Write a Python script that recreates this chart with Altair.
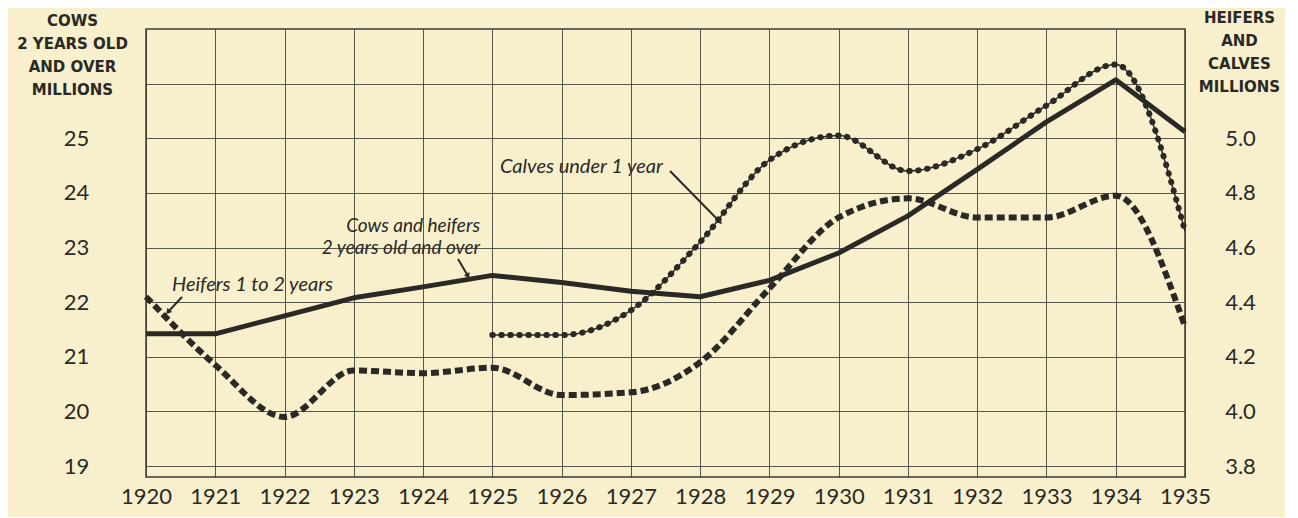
import altair as alt
import pandas as pd

years = list(range(1920, 1936))
cows = [21.42, 21.42, 21.75, 22.08, 22.28, 22.49, 22.36, 22.2, 22.1, 22.4, 22.9, 23.58, 24.43, 25.3, 26.07, 25.12]
heifers = [4.42, 4.17, 3.98, 4.15, 4.14, 4.16, 4.06, 4.07, 4.18, 4.45, 4.71, 4.78, 4.71, 4.71, 4.79, 4.31]
calf_years = list(range(1925, 1936))
calves = [4.28, 4.28, 4.37, 4.62, 4.92, 5.01, 4.88, 4.96, 5.12, 5.27, 4.66]

left_ticks = [19, 20, 21, 22, 23, 24, 25, 26]
right_ticks = [3.8, 4.0, 4.2, 4.4, 4.6, 4.8, 5.0]

INK = "#2a2925"
GRID = "#3d3b33"
BG = "#f8f0cd"
FONT = "Lato"

df_cows = pd.DataFrame({"year": years, "value": cows})
df_heif = pd.DataFrame({"year": years, "value": heifers})
df_calf = pd.DataFrame({"year": calf_years, "value": calves})

x_axis = alt.Axis(values=years, format="d", grid=True, gridColor=GRID, gridWidth=1,
                  gridOpacity=0.85, domain=False, ticks=False, labelPadding=9,
                  labelFontSize=22, labelFont=FONT, labelColor=INK, title=None,
                  labelFlush=False)
x_enc = alt.X("year:Q", scale=alt.Scale(domain=[1920, 1935], nice=False, zero=False), axis=x_axis)

left_axis = alt.Axis(values=left_ticks, orient="left", grid=True, gridColor=GRID, gridWidth=1,
                     gridOpacity=0.85, domain=False, ticks=False, labelAlign="center",
                     labelBaseline="middle", labelPadding=70, labelFontSize=22, labelFont=FONT,
                     labelColor=INK, labelExpr="datum.value <= 25 ? datum.label : ''",
                     title=["COWS", "2 YEARS OLD", "AND OVER", "MILLIONS"], titleAngle=0,
                     titleAlign="center", titleBaseline="top", titleX=-74, titleY=-16,
                     titleFont="DejaVu Sans", titleFontSize=15, titleFontWeight="bold",
                     titleColor=INK, titleLineHeight=23)
right_axis = alt.Axis(values=right_ticks, orient="right", grid=False, domain=False, ticks=False,
                      labelAlign="center", labelBaseline="middle", labelPadding=55,
                      labelFontSize=22, labelFont=FONT, labelColor=INK, format=".1f",
                      title=["HEIFERS", "AND", "CALVES", "MILLIONS"], titleAngle=0,
                      titleAlign="center", titleBaseline="top", titleX=54, titleY=-19,
                      titleFont="DejaVu Sans", titleFontSize=15, titleFontWeight="bold",
                      titleColor=INK, titleLineHeight=23)

y_left = alt.Y("value:Q", scale=alt.Scale(domain=[18.8, 27], nice=False, zero=False), axis=left_axis)
y_right = alt.Y("value:Q", scale=alt.Scale(domain=[3.76, 5.4], nice=False, zero=False), axis=right_axis)

cows_line = alt.Chart(df_cows).mark_line(color=INK, strokeWidth=5, strokeJoin="round").encode(x=x_enc, y=y_left)

# annotations (pixel positions relative to plot area)
ann_left = pd.DataFrame({
    "px": [26, 354],
    "py": [256, 138],
    "txt": ["Heifers 1 to 2 years", "Calves under 1 year"],
})
ann_right = pd.DataFrame({
    "px": [334, 334],
    "py": [197, 219],
    "txt": ["Cows and heifers", "2 years old and over"],
})
arrows = pd.DataFrame({
    "x1": [36, 312, 524],
    "y1": [268, 230, 142],
    "x2": [22, 322, 574],
    "y2": [283, 247, 193],
    "ang": [219.5, 151.0, 135.0],
})

def px(f):
    return alt.X(f"{f}:Q", scale=None, axis=None)

def py(f):
    return alt.Y(f"{f}:Q", scale=None, axis=None)

txt_l = alt.Chart(ann_left).mark_text(align="left", baseline="middle", font=FONT, fontStyle="italic",
                                      fontSize=20, color=INK).encode(x=px("px"), y=py("py"), text="txt:N")
txt_r = alt.Chart(ann_right).mark_text(align="right", baseline="middle", font=FONT, fontStyle="italic",
                                       fontSize=19, color=INK).encode(x=px("px"), y=py("py"), text="txt:N")
arr_lines = alt.Chart(arrows).mark_rule(color=INK, strokeWidth=2).encode(
    x=px("x1"), y=py("y1"), x2="x2:Q", y2="y2:Q")
arr_heads = alt.Chart(arrows).mark_point(shape="triangle-up", filled=True, color=INK, size=40, opacity=1).encode(
    x=px("x2"), y=py("y2"), angle=alt.Angle("ang:Q", scale=None))

left_group = alt.layer(cows_line, txt_l, txt_r, arr_lines, arr_heads)

heif_line = alt.Chart(df_heif).mark_line(color=INK, strokeWidth=6, strokeDash=[8, 4],
                                         interpolate="monotone").encode(x=x_enc, y=y_right)
calf_thin = alt.Chart(df_calf).mark_line(color=INK, strokeWidth=1.5,
                                         interpolate="monotone").encode(x=x_enc, y=y_right)
calf_dots = alt.Chart(df_calf).mark_line(color=INK, strokeWidth=6, strokeDash=[0.5, 8.5], strokeCap="round",
                                         interpolate="monotone").encode(x=x_enc, y=y_right)

right_group = alt.layer(heif_line, calf_thin, calf_dots)

chart = alt.layer(left_group, right_group).resolve_scale(y="independent").properties(
    width=1039, height=448,
    autosize=alt.AutoSizeParams(type="none"),
    padding={"left": 138, "top": 21, "right": 100, "bottom": 40},
).configure(background=BG).configure_view(stroke=GRID, strokeWidth=1.5)

chart.save("out.html", embed_options={"renderer": "svg", "actions": False})
